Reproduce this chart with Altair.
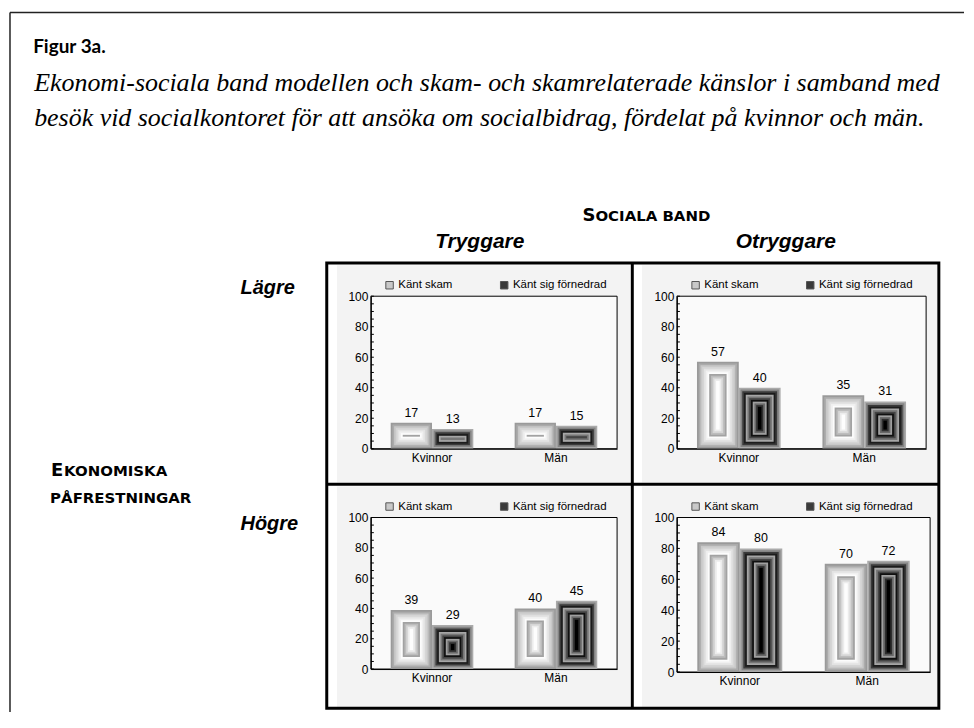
import altair as alt
import pandas as pd

# ---------------- data ----------------
genders = ["Kvinnor", "Män"]
series = ["Känt skam", "Känt sig förnedrad"]
col_headers = ["Tryggare", "Otryggare"]
row_headers = ["Lägre", "Högre"]

lagre_tryggare_skam = [17, 17]
lagre_tryggare_fornedrad = [13, 15]
lagre_otryggare_skam = [57, 35]
lagre_otryggare_fornedrad = [40, 31]
hogre_tryggare_skam = [39, 40]
hogre_tryggare_fornedrad = [29, 45]
hogre_otryggare_skam = [84, 70]
hogre_otryggare_fornedrad = [80, 72]

y_ticks = [0, 20, 40, 60, 80, 100]
minor_ticks = list(range(0, 101, 5))

title_text = "Figur 3a."
subtitle_lines = [
    "Ekonomi-sociala band modellen och skam- och skamrelaterade känslor i samband med",
    "besök vid socialkontoret för att ansöka om socialbidrag, fördelat på kvinnor och män.",
]
col_title = ["S", "OCIALA BAND"]
row_title1 = ["E", "KONOMISKA"]
row_title2 = "PÅFRESTNINGAR"

# ---------------- styling ----------------
SANS = "Liberation Sans"
CAPS = "DejaVu Sans"
N = 12
LIGHT = ["#9a9a9a", "#ababab", "#c8c8c8", "#d4d4d4", "#e3e3e3", "#f0f0f0", "#fcfcfc",
         "#a2a2a2", "#bcbcbc", "#d6d6d6", "#ececec", "#fdfdfd"]
DARK = ["#aaaaaa", "#848484", "#3a3a3a", "#1c1c1c", "#a6a6a6", "#767676", "#444444", "#101010",
        "#a0a0a0", "#686868", "#2e2e2e", "#000000"]
PO = 0.48
GAP = " "
slot_domain = [f"{genders[0]}|{series[0]}", f"{genders[0]}|{series[1]}", GAP,
               f"{genders[1]}|{series[0]}", f"{genders[1]}|{series[1]}"]

one = pd.DataFrame({"k": [0]})

# page coordinates of panel 1 plot origin
X0, Y0 = 370.75, 295.25


def rect(x1, x2, y1, y2, **kw):
    return alt.Chart(one).mark_rect(**kw).encode(
        x=alt.value(x1), x2=alt.value(x2), y=alt.value(y1), y2=alt.value(y2))


def rule(x1, x2, y1, y2, **kw):
    return alt.Chart(one).mark_rule(**kw).encode(
        x=alt.value(x1), x2=alt.value(x2), y=alt.value(y1), y2=alt.value(y2))


def txt(s, px, py, size, font, weight="normal", style="normal", align="left"):
    # px, py are page coordinates, converted relative to panel 1
    return alt.Chart(one).mark_text(
        text=s, fontSize=size, font=font, fontWeight=weight, fontStyle=style,
        align=align, baseline="alphabetic", color="black"
    ).encode(x=alt.value(px - X0), y=alt.value(py - Y0))


def panel(skam, forn, W, H, grey, extra=()):
    rows = []
    for gi, g in enumerate(genders):
        rows.append({"gender": g, "serie": series[0], "slot": f"{g}|{series[0]}", "value": skam[gi]})
        rows.append({"gender": g, "serie": series[1], "slot": f"{g}|{series[1]}", "value": forn[gi]})
    df = pd.DataFrame(rows)
    step = W / (5 + 2 * PO)
    xs = alt.Scale(domain=slot_domain, paddingInner=0, paddingOuter=PO)
    ys = alt.Scale(domain=[0, 100], nice=False)
    xax = alt.Axis(values=[slot_domain[1], slot_domain[4]],
                   labelExpr="split(datum.value, '|')[0]",
                   labelOffset=-step / 2, ticks=False, domainColor="black",
                   labelPadding=4, labelFontSize=12, labelAngle=0, zindex=1)
    yax = alt.Axis(values=y_ticks, ticks=False, grid=False, domainColor="black",
                   labelPadding=3, labelFontSize=12, labelFlush=False, zindex=1)
    X = alt.X("slot:N", scale=xs, axis=xax, title=None)

    leg = alt.Legend(orient="none", legendX=13, legendY=-17, direction="horizontal",
                     title=None, symbolType="square", symbolSize=56,
                     symbolStrokeColor="#555555", symbolStrokeWidth=1,
                     labelFontSize=11.5, labelFont=SANS, labelOffset=3,
                     columnPadding=46, zindex=1)

    layers = [
        rect(grey[0], grey[1], grey[2], grey[3], fill="#f3f3f3"),
        rect(0, W, 0, H, fill="#fafafa", stroke="black", strokeWidth=1),
    ]
    for i in range(N):
        ins = i * (step / 2 / N) * 100 / H
        base = alt.Chart(df).transform_calculate(
            lo=f"{ins:.4f}",
            hi=f"datum.value - {ins:.4f}",
            col=f"datum.serie == '{series[0]}' ? '{LIGHT[i]}' : '{DARK[i]}'",
        ).transform_filter("datum.hi > datum.lo")
        mk = base.mark_bar(width=alt.RelativeBandSize(1 - i / N)) if i > 0 else base.mark_bar()
        if i == 2:
            color = alt.Color("serie:N", scale=alt.Scale(domain=series, range=[LIGHT[2], DARK[2]]),
                              legend=leg)
        else:
            color = alt.Color("col:N", scale=None)
        layers.append(mk.encode(x=X, y=alt.Y("lo:Q", scale=ys, axis=yax, title=None),
                                y2="hi:Q", color=color))

    layers.append(alt.Chart(df).mark_text(fontSize=12.5, font=SANS, baseline="bottom", dy=-3,
                                          color="black").encode(
        x=X, y=alt.Y("value:Q", scale=ys, axis=yax, title=None), text="value:Q"))

    tdf = pd.DataFrame({"t": minor_ticks})
    layers.append(alt.Chart(tdf).mark_rule(color="black", strokeWidth=1).encode(
        y=alt.Y("t:Q", scale=ys, axis=yax, title=None), x=alt.value(0), x2=alt.value(3)))
    layers.extend(extra)
    return alt.layer(*layers).properties(width=W, height=H)


# ---------------- annotations (drawn in panel 1) ----------------
ann = [
    rule(-362, -362, -284.5, 417, color="#222222", strokeWidth=1.5),
    rule(-362, 595, -284.5, -284.5, color="#222222", strokeWidth=1.5),
    txt(title_text, 32, 51, 19, "Lato", weight="bold"),
    txt(subtitle_lines[0], 33, 89, 26, "Liberation Serif", style="italic"),
    txt(subtitle_lines[1], 33, 125, 26, "Liberation Serif", style="italic"),
    txt(col_title[0], 583, 220, 18, CAPS, weight="bold"),
    txt(col_title[1], 596, 220, 15, CAPS, weight="bold"),
    txt(col_headers[0], 480, 247, 21, SANS, weight="bold", style="italic", align="center"),
    txt(col_headers[1], 787, 247, 21, SANS, weight="bold", style="italic", align="center"),
    txt(row_headers[0], 240, 293, 20, SANS, weight="bold", style="italic"),
    txt(row_headers[1], 240, 530, 20, SANS, weight="bold", style="italic"),
    txt(row_title1[0], 50, 476, 18, CAPS, weight="bold"),
    txt(row_title1[1], 63, 476, 15, CAPS, weight="bold"),
    txt(row_title2, 49, 503, 15, CAPS, weight="bold"),
]

# grid lines (drawn last, in panel 4; origin at page (677.75, 517.25))
GX, GY = 677.75, 517.25
grid = [
    rect(326.5 - GX, 940.5 - GX, 262 - GY, 708.5 - GY, fillOpacity=0, stroke="black", strokeWidth=3),
    rule(633 - GX, 633 - GX, 262 - GY, 708.5 - GY, color="black", strokeWidth=3),
    rule(326.5 - GX, 940.5 - GX, 484 - GY, 484 - GY, color="black", strokeWidth=3),
]

p1 = panel(lagre_tryggare_skam, lagre_tryggare_fornedrad, 247, 153, (-34, 260, -31, 187), ann)
p2 = panel(lagre_otryggare_skam, lagre_otryggare_fornedrad, 250, 153, (-35, 261, -31, 187))
p3 = panel(hogre_tryggare_skam, hogre_tryggare_fornedrad, 247, 152, (-34, 260, -31, 190))
p4 = panel(hogre_otryggare_skam, hogre_otryggare_fornedrad, 254, 155, (-35, 261, -31, 190), grid)

chart = alt.concat(
    p1, p2, p3, p4, columns=2, spacing={"row": 69, "column": 60}, bounds="flush", align="each"
).resolve_scale(color="independent").resolve_legend(color="independent").properties(
    padding={"left": 0, "top": 2, "right": 0, "bottom": 0},
    background="white",
).configure_view(stroke="transparent").configure_axis(
    labelFont=SANS, labelColor="black", domainWidth=1
).configure_legend(zindex=1)

chart.save("out.html", embed_options={"renderer": "svg", "actions": False})
